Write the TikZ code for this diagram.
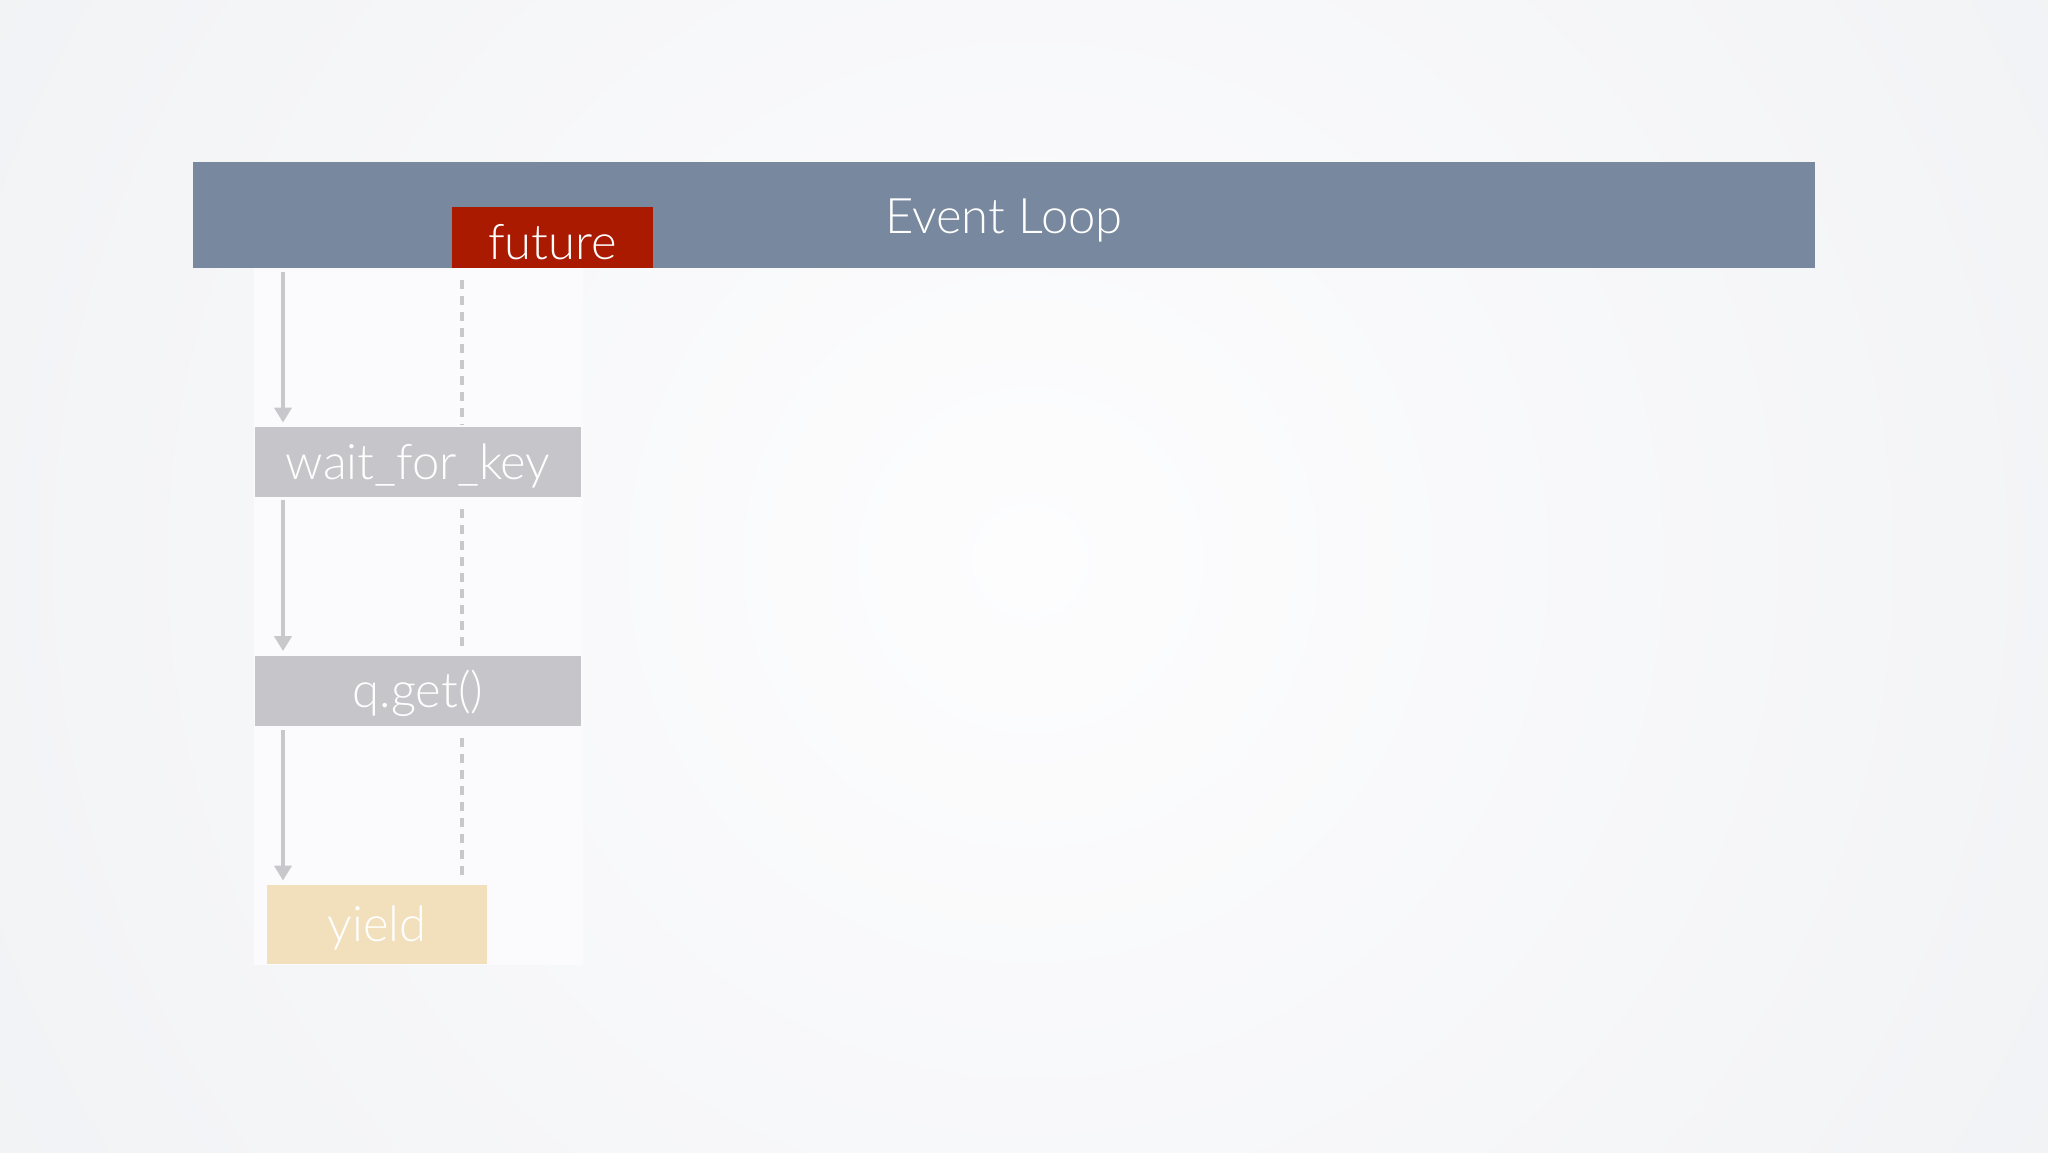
\documentclass[tikz,border=0pt]{standalone}
\usepackage{fontspec}
\setmainfont{Lato}[UprightFont=* Light]
\usetikzlibrary{arrows.meta}
\definecolor{bgedge}{RGB}{231,233,237}
\definecolor{bgmid}{RGB}{253,253,254}
\definecolor{barc}{RGB}{120,136,158}
\definecolor{futc}{RGB}{170,26,0}
\definecolor{boxc}{RGB}{198,198,202}
\definecolor{yieldc}{RGB}{242,224,188}
\definecolor{colc}{RGB}{251,251,253}
\definecolor{linec}{RGB}{200,200,204}
\tikzset{
  lbl/.style={inner sep=0pt, text=white, font=\fontsize{24.5}{28}\selectfont, text depth=0pt},
  graybox/.style={lbl, fill=boxc, minimum width=163pt, minimum height=35pt, text height=17pt},
  arr/.style={draw=linec, line width=2pt, -{Triangle[width=8.5pt,length=7.5pt]}},
  dsh/.style={draw=linec, line width=2pt, dash pattern=on 4.5pt off 3.5pt},
}
\begin{document}
\begin{tikzpicture}[x=0.5pt, y=-0.5pt]
\useasboundingbox (0,0) rectangle (2048,1152);
\fill[bgedge] (0,0) rectangle (2048,1152);
\begin{scope}
\clip (0,0) rectangle (2048,1152);
\shade[inner color=bgmid, outer color=bgedge] (1030,560) circle (2300);
\end{scope}
% white column
\node[fill=colc, inner sep=0pt, minimum width=164.5pt, minimum height=348.5pt] (col) at (418.5,616.5) {};
% event loop bar
\node[lbl, fill=barc, minimum width=811pt, minimum height=53pt, text height=18pt] (loop) at (1004,215) {Event Loop};
\node[lbl, fill=futc, minimum width=100.5pt, minimum height=30.5pt, text height=22pt] (future) at (552.5,237.5) {future};
% steps
\node[graybox] (wait) at (418,462) {wait\_for\_key};
\node[graybox] (qget) at (418,690.5) {q.get()};
\node[lbl, fill=yieldc, minimum width=110pt, minimum height=39.5pt, text height=17pt] (yield) at (377,924.5) {yield};
% coordinates for lines
\coordinate (a0) at (283,272);
\coordinate (d0) at (462,280);
% solid arrows
\draw[arr] (a0) -- ([yshift=2pt]a0 |- wait.north);
\draw[arr] ([yshift=-1.5pt]a0 |- wait.south) -- ([yshift=2pt]a0 |- qget.north);
\draw[arr] ([yshift=-2pt]a0 |- qget.south) -- ([yshift=2pt]a0 |- yield.north);
% dashed lines
\draw[dsh] (d0) -- ([yshift=1pt]d0 |- wait.north);
\draw[dsh] ([yshift=-6pt]d0 |- wait.south) -- ([yshift=1.5pt]d0 |- qget.north);
\draw[dsh] ([yshift=-6pt]d0 |- qget.south) -- ([yshift=2pt]d0 |- yield.north);
\end{tikzpicture}
\end{document}
